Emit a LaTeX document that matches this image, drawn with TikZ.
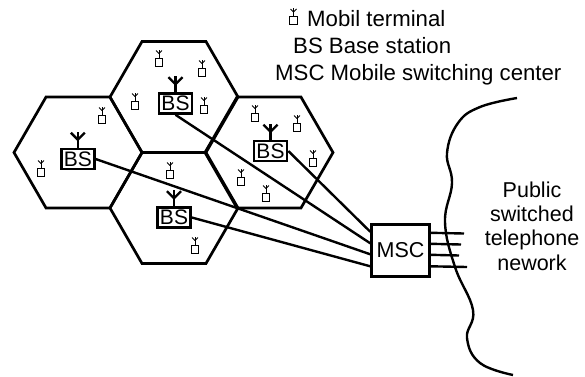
\documentclass[tikz,border=0pt]{standalone}
\usepackage{fontspec}
\setmainfont{Liberation Sans}
\usetikzlibrary{shapes.geometric}

\begin{document}
\begin{tikzpicture}[x=1pt, y=-1pt,
    hexcell/.style={draw, regular polygon, regular polygon sides=6, minimum size=128pt, inner sep=0pt, outer sep=0pt, line width=2.7pt},
    basebox/.style={draw, fill=white, minimum width=33pt, minimum height=20pt, inner sep=0pt, line width=2.6pt, font=\fontsize{21}{21}\selectfont},
    mobilebox/.style={draw, fill=white, minimum width=7.5pt, minimum height=8pt, inner sep=0pt, line width=1pt},
    wire/.style={line width=2.4pt},
    legend/.style={inner sep=0pt, anchor=base west, font=\fontsize{22.2}{24.5}\selectfont},
    txt/.style={inner sep=0pt, font=\fontsize{21.5}{24.4}\selectfont, align=center}]
    \useasboundingbox (0,0) rectangle (585,376);
    % cells
    \node[hexcell] (cellleft) at (78,152.5) {};
    \node[hexcell] (celltop) at (174,97) {};
    \node[hexcell] (cellright) at (269,152.5) {};
    \node[hexcell] (cellbottom) at (174,208) {};
    % base stations
    \node[basebox] (bsleft) at (77.8,159) {BS};
    \node[basebox] (bstop) at (175.5,103.5) {BS};
    \node[basebox] (bsright) at (270.5,151) {BS};
    \node[basebox] (bsbottom) at (174,217.5) {BS};
    \foreach \bs in {bsleft, bstop, bsright, bsbottom} {
        \draw[wire] (\bs.north) -- ++(0,-16);
        \draw[wire] ([yshift=8pt]\bs.north) -- ++(-7,-7);
        \draw[wire] ([yshift=8pt]\bs.north) -- ++(7,-7);
    }
    % mobiles
    \foreach \px/\py [count=\i] in {159/62, 135/105, 102/119, 202/72, 204/109, 255/117, 297/127, 313/162, 241/181, 266/197, 170/174, 195/249, 41/172, 293.5/20.5} {
        \node[mobilebox] (ms\i) at (\px,\py) {};
        \draw[line width=1pt] (ms\i.north) -- ++(0,-8);
        \draw[line width=1pt] ([yshift=4pt]ms\i.north) -- ++(-3,-3);
        \draw[line width=1pt] ([yshift=4pt]ms\i.north) -- ++(3,-3);
    }
    % switching center
    \node[draw, minimum width=58pt, minimum height=52pt, inner sep=0pt, line width=2.4pt, txt] (msc) at (400.5,250.5) {MSC};
    \draw[wire] (bsright.east) -- ([yshift=-8.5pt]msc.north west);
    \draw[wire] (bstop.south) -- ([yshift=-20pt]msc.north west);
    \draw[wire] (bsleft.east) -- ([yshift=-31pt]msc.north west);
    \draw[wire] (bsbottom.east) -- ([yshift=-43pt]msc.north west);
    % trunks
    \coordinate (trunka) at (464,233.5);
    \coordinate (trunkb) at (461,244.5);
    \coordinate (trunkc) at (459,255.5);
    \coordinate (trunkd) at (467,267);
    \draw[wire] ([yshift=-9.5pt]msc.north east) -- (trunka);
    \draw[wire] ([yshift=-20.5pt]msc.north east) -- (trunkb);
    \draw[wire] ([yshift=-31.5pt]msc.north east) -- (trunkc);
    \draw[wire] ([yshift=-43pt]msc.north east) -- (trunkd);
    % network border
    \draw[wire] plot[smooth, tension=0.7] coordinates {(517,98) (480,107) (458,123) (447,153) (452,183) (445,222) (455,267) (473,310) (467,338) (480,363) (513,375)};
    % labels
    \node[legend] (legendmobile) at (307,26) {Mobil terminal};
    \node[legend] (legendbase) at (293,53) {BS Base station};
    \node[legend] (legendmsc) at (275,80) {MSC Mobile switching center};
    \node[txt] (network) at (532,226) {Public\\switched\\telephone\\nework};
\end{tikzpicture}
\end{document}
